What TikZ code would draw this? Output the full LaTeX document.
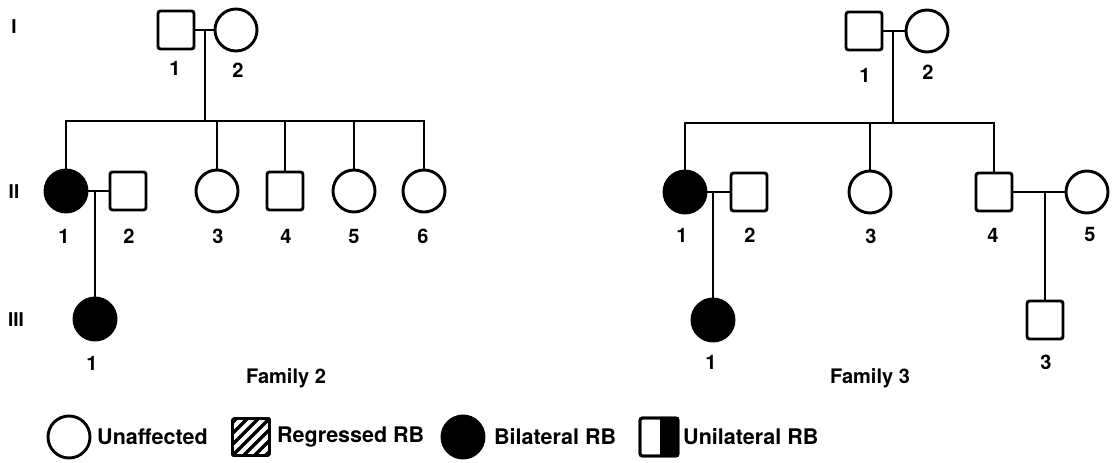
\documentclass[tikz,border=0pt]{standalone}
\usepackage{fontspec}
\setmainfont{TeX Gyre Heros}
\begin{document}
\begin{tikzpicture}[x=1pt,y=-1pt,
  fem/.style={circle,draw,line width=2.9pt,minimum size=42pt,inner sep=0pt},
  male/.style={rectangle,rounded corners=2.5pt,draw,line width=2.9pt,minimum width=36pt,minimum height=38pt,inner sep=0pt},
  aff/.style={fill=black},
  con/.style={line width=2.1pt},
  num/.style={font=\fontsize{20}{20}\selectfont\bfseries,inner sep=0pt},
  gen/.style={font=\fontsize{19}{19}\selectfont\bfseries,inner sep=0pt},
  leg/.style={font=\fontsize{21.5}{21.5}\selectfont\bfseries,inner sep=0pt,anchor=west},
  fam/.style={font=\fontsize{20}{20}\selectfont\bfseries,inner sep=0pt}]
\useasboundingbox (0,0) rectangle (1114,463);

% generation labels
\node[gen] (gI) at (14,27) {I};
\node[gen] (gII) at (14,192) {II};
\node[gen] (gIII) at (16,320) {III};

% ---------------- Family 2 ----------------
\node[male] (aI1) at (176,30) {};
\node[fem] (aI2) at (236,30) {};
\coordinate (am1) at (205,30);
\coordinate (as1) at (205,121);
\node[fem,aff] (aII1) at (66,191) {};
\node[male] (aII2) at (128,191) {};
\node[fem] (aII3) at (217,191) {};
\node[male] (aII4) at (285,191) {};
\node[fem] (aII5) at (354,191) {};
\node[fem] (aII6) at (424,191) {};
\coordinate (am2) at (95,191);
\node[fem,aff] (aIII1) at (95,319) {};

\draw[con] (aI1.east) -- (aI2.west);
\draw[con] (am1) -- (as1);
\draw[con] (aII1.north) -- (aII1.north |- as1) -- (aII6.north |- as1) -- (aII6.north);
\draw[con] (aII3.north) -- (aII3.north |- as1);
\draw[con] (aII4.north) -- (aII4.north |- as1);
\draw[con] (aII5.north) -- (aII5.north |- as1);
\draw[con] (aII1.east) -- (aII2.west);
\draw[con] (am2) -- (aIII1.north);

\node[num] (laI1) at (175,68) {1};
\node[num] (laI2) at (238,70) {2};
\node[num] (laII1) at (64,236) {1};
\node[num] (laII2) at (129,236) {2};
\node[num] (laII3) at (218,236) {3};
\node[num] (laII4) at (286,236) {4};
\node[num] (laII5) at (354,236) {5};
\node[num] (laII6) at (423,236) {6};
\node[num] (laIII1) at (92,363) {1};
\node[fam] (fam2) at (286,378) {Family 2};

% ---------------- Family 3 ----------------
\node[male] (bI1) at (864,31) {};
\node[fem] (bI2) at (927,31) {};
\coordinate (bm1) at (893,31);
\coordinate (bs1) at (893,123);
\node[fem,aff] (bII1) at (685,192) {};
\node[male] (bII2) at (749,192) {};
\node[fem] (bII3) at (870,192) {};
\node[male] (bII4) at (994,192) {};
\node[fem] (bII5) at (1087,192) {};
\coordinate (bm2) at (713,192);
\coordinate (bm3) at (1045,192);
\node[fem,aff] (bIII1) at (713,320) {};
\node[male] (bIII3) at (1045,320) {};

\draw[con] (bI1.east) -- (bI2.west);
\draw[con] (bm1) -- (bs1);
\draw[con] (bII1.north) -- (bII1.north |- bs1) -- (bII4.north |- bs1) -- (bII4.north);
\draw[con] (bII3.north) -- (bII3.north |- bs1);
\draw[con] (bII1.east) -- (bII2.west);
\draw[con] (bm2) -- (bIII1.north);
\draw[con] (bII4.east) -- (bII5.west);
\draw[con] (bm3) -- (bIII3.north);

\node[num] (lbI1) at (865,75) {1};
\node[num] (lbI2) at (928,72) {2};
\node[num] (lbII1) at (682,235) {1};
\node[num] (lbII2) at (750,235) {2};
\node[num] (lbII3) at (871,236) {3};
\node[num] (lbII4) at (993,235) {4};
\node[num] (lbII5) at (1090,234) {5};
\node[num] (lbIII1) at (711,362) {1};
\node[num] (lbIII3) at (1046,362) {3};
\node[fam] (fam3) at (870,378) {Family 3};

% ---------------- Legend ----------------
\node[fem] (kU) at (69,437) {};
\node[leg] (tU) at (97,437) {Unaffected};

\node[male,minimum width=37pt,minimum height=37pt] (kR) at (251,437) {};
\begin{scope}
  \clip[rounded corners=2.5pt] (kR.south west) rectangle (kR.north east);
  \foreach \d in {-33,-22,-11,0,11,22,33} {
    \draw[line width=3.2pt] ([xshift=\d pt]kR.south west) -- ++(40,-40);
  }
\end{scope}
\node[male,minimum width=37pt,minimum height=37pt] (kR2) at (251,437) {};
\node[leg] (tR) at (277,437) {Regressed RB};

\node[fem,aff] (kB) at (463,437) {};
\node[leg] (tB) at (494,437) {Bilateral RB};

\node[male,minimum width=38pt,minimum height=38pt] (kN) at (659,437) {};
\begin{scope}
  \clip[rounded corners=2.5pt] (kN.south west) rectangle (kN.north east);
  \fill (kN.north) ++(1,0) rectangle (kN.south east);
\end{scope}
\node[male,minimum width=38pt,minimum height=38pt] (kN2) at (659,437) {};
\node[leg] (tN) at (683,437) {Unilateral RB};
\end{tikzpicture}
\end{document}
